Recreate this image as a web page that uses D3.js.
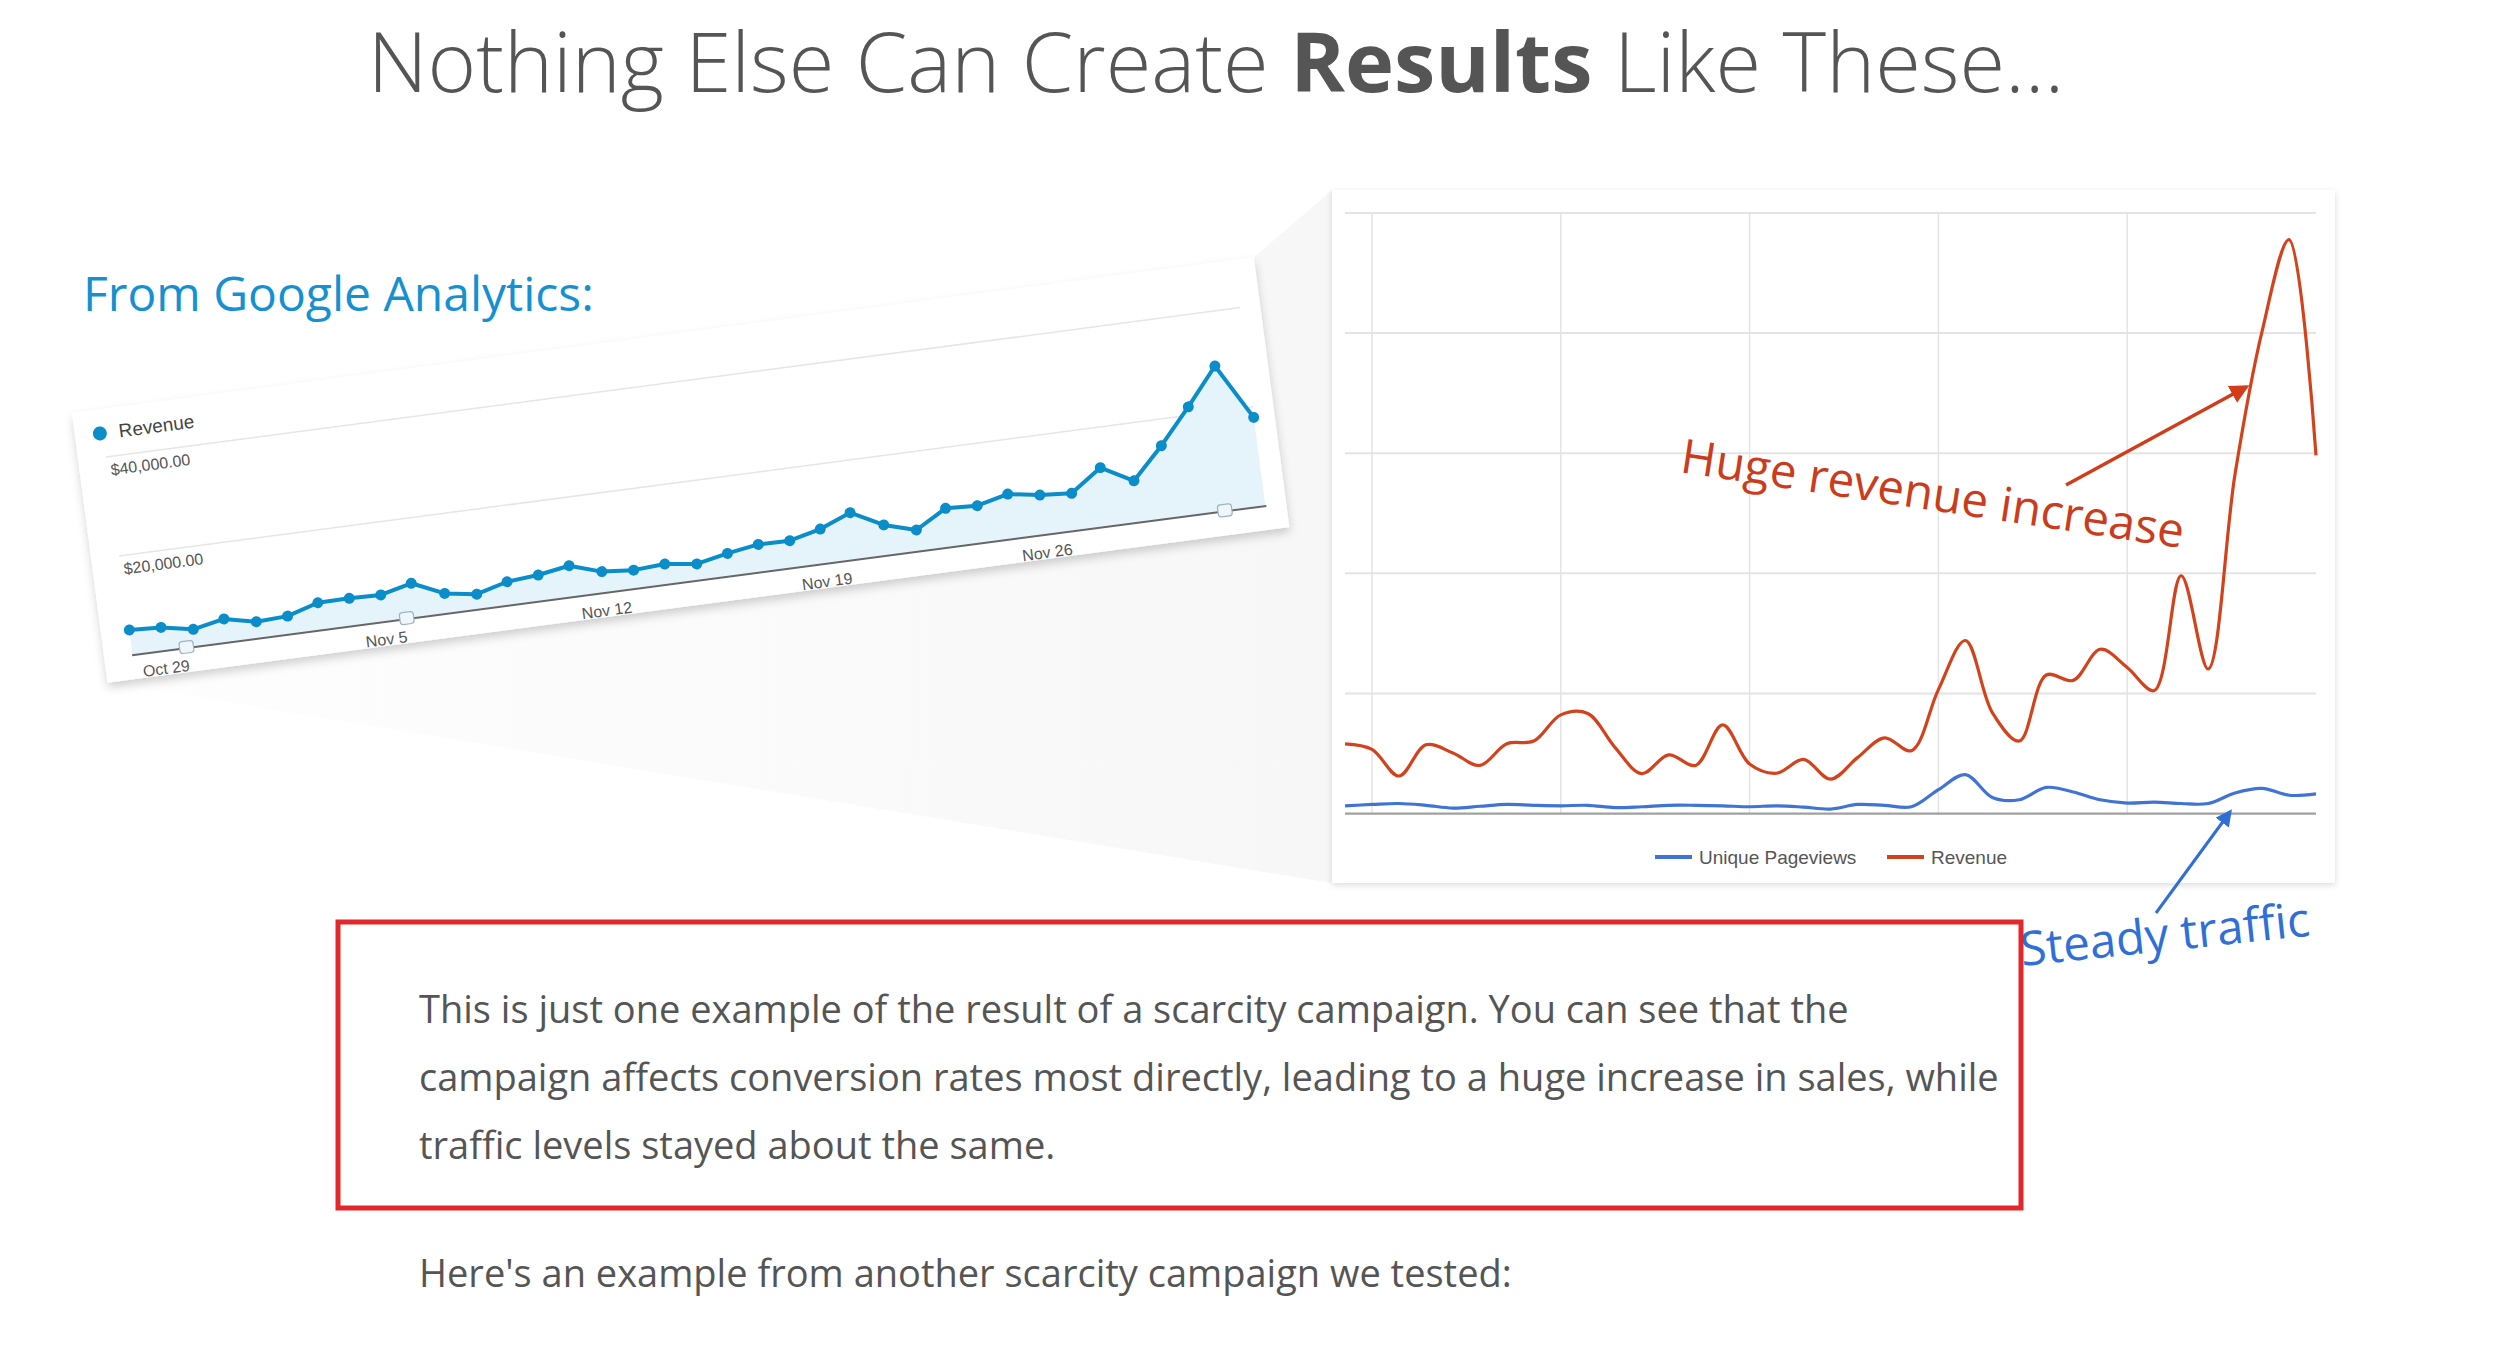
<!DOCTYPE html>
<html><head><meta charset="utf-8">
<script src="https://cdn.jsdelivr.net/npm/d3@7"></script>
<style>
html,body{margin:0;padding:0;background:#fff;overflow:hidden}
svg{display:block}
</style></head><body>
<svg id="c" width="2496" height="1356"></svg>
<script>
// ---------------- DATA ----------------
const dayLabels = ["Oct 28","Oct 29","Oct 30","Oct 31","Nov 1","Nov 2","Nov 3","Nov 4","Nov 5","Nov 6",
  "Nov 7","Nov 8","Nov 9","Nov 10","Nov 11","Nov 12","Nov 13","Nov 14","Nov 15","Nov 16",
  "Nov 17","Nov 18","Nov 19","Nov 20","Nov 21","Nov 22","Nov 23","Nov 24","Nov 25","Nov 26",
  "Nov 27","Nov 28","Nov 29","Nov 30","Dec 1","Dec 2","Dec 3"];
const weekTicks = ["Oct 29","Nov 5","Nov 12","Nov 19","Nov 26"];

// Google Analytics (left, tilted) revenue in $
const gaRevenue = [5080,4760,3540,4800,3400,3700,5560,5620,5460,6980,
  4100,3100,4780,5300,6340,4320,3780,4180,3360,4640,
  5620,5540,7060,9520,6220,4360,7900,7580,9100,8060,
  7580,11920,8440,14680,21680,29080,17880];
const gaYTicks = [20000, 40000];
const gaYTickLabels = ["$20,000.00", "$40,000.00"];
const gaLegend = "Revenue";
const gaAnnotationDays = ["Oct 30","Nov 6","Dec 2"];

// Right chart (Google chart): Revenue and Unique Pageviews
const revenue = [581,535,313,573,505,401,581,604,822,833,
  554,333,489,401,738,413,336,451,287,466,
  631,524,1032,1441,841,604,1154,1109,1368,1216,
  1024,1980,1204,2829,4014,4778,2982];
const pageviews = [65,76,84,69,46,61,76,69,65,69,
  50,57,69,69,65,57,65,54,38,76,
  69,57,199,325,134,115,218,180,115,88,
  96,84,84,172,210,153,164];
const seriesNames = ["Unique Pageviews","Revenue"];
const seriesColors = ["#3f74d4","#d2431d"];

// Texts
const titleParts = ["Nothing Else Can Create ","Results"," Like These..."];
const gaHeading = "From Google Analytics:";
const bodyLines = [
  "This is just one example of the result of a scarcity campaign. You can see that the",
  "campaign affects conversion rates most directly, leading to a huge increase in sales, while",
  "traffic levels stayed about the same."];
const afterLine = "Here's an example from another scarcity campaign we tested:";
const noteRevenue = "Huge revenue increase";
const noteTraffic = "Steady traffic";

// ---------------- DRAW ----------------
const svg = d3.select("#c");
const defs = svg.append("defs");

const sh1 = defs.append("filter").attr("id","cardShadow").attr("x","-5%").attr("y","-10%").attr("width","110%").attr("height","130%");
sh1.append("feDropShadow").attr("dx",0).attr("dy",5).attr("stdDeviation",5).attr("flood-color","#000").attr("flood-opacity",0.18);
const sh2 = defs.append("filter").attr("id","cardShadow2").attr("x","-5%").attr("y","-5%").attr("width","110%").attr("height","115%");
sh2.append("feDropShadow").attr("dx",0).attr("dy",2).attr("stdDeviation",3).attr("flood-color","#000").attr("flood-opacity",0.14);

const gradP = defs.append("linearGradient").attr("id","proj").attr("x1","0").attr("y1","0").attr("x2","1").attr("y2","0");
gradP.append("stop").attr("offset","0").attr("stop-color","#fefefe");
gradP.append("stop").attr("offset","1").attr("stop-color","#f7f7f7");

function arrowMarker(id, color){
  defs.append("marker").attr("id",id).attr("viewBox","0 0 10 10").attr("refX",8).attr("refY",5)
    .attr("markerWidth",5.5).attr("markerHeight",5.5).attr("orient","auto")
    .append("path").attr("d","M0,0 L10,5 L0,10 z").attr("fill",color);
}
arrowMarker("arR","#cf3d1b");
arrowMarker("arB","#2f6fd6");

// Title
const title = svg.append("text").attr("x",1216).attr("y",92).attr("text-anchor","middle")
  .style("font-family","'Open Sans'").style("font-size","83px").style("fill","#555");
title.selectAll("tspan").data(titleParts).join("tspan")
  .style("font-weight",(d,i)=>i===1?700:300).text(d=>d);

// Geometry of tilted GA card
const gaOrigin = [72,413], gaAngle = -7.5, gaW = 1192, gaH = 272;
const rad = gaAngle*Math.PI/180, cs = Math.cos(rad), sn = Math.sin(rad);
const toPage = (u,v)=>[gaOrigin[0]+u*cs - v*sn, gaOrigin[1]+u*sn + v*cs];

// Right card geometry
const card = {x:1332, y:190, w:1003, h:693};

// projection polygon (zoom effect)
svg.append("polygon")
  .attr("points",[toPage(gaW,0),[card.x,card.y],[card.x,card.y+card.h],toPage(0,gaH)].map(p=>p.join(",")).join(" "))
  .attr("fill","url(#proj)");

// Heading
svg.append("text").attr("x",83).attr("y",311).text(gaHeading)
  .style("font-family","'Open Sans'").style("font-size","48px").style("fill","#1590d0");

// ---- GA card ----
const g = svg.append("g").attr("transform",`translate(${gaOrigin}) rotate(${gaAngle})`);
g.append("rect").attr("width",gaW).attr("height",gaH).attr("fill","#fff").attr("filter","url(#cardShadow)");

const xG = d3.scalePoint(dayLabels,[28.5,1171]);
const yG = d3.scaleLinear([0,40000],[248,48]);

g.selectAll(".gg").data(gaYTicks).join("line")
  .attr("x1",28).attr("x2",1172).attr("y1",d=>yG(d)).attr("y2",d=>yG(d))
  .attr("stroke","#e6e6e6").attr("stroke-width",1.5);
g.selectAll(".gl").data(gaYTicks).join("text")
  .attr("x",31).attr("y",d=>yG(d)+19).text((d,i)=>gaYTickLabels[i])
  .style("font-family","'Liberation Sans',Arial").style("font-size","16px").style("fill","#555");

g.append("path").datum(gaRevenue)
  .attr("d",d3.area().x((d,i)=>xG(dayLabels[i])).y0(yG(0)).y1(d=>yG(d)))
  .attr("fill","#e5f3fb");
g.append("line").attr("x1",28).attr("x2",1172).attr("y1",yG(0)).attr("y2",yG(0))
  .attr("stroke","#666").attr("stroke-width",2);
g.append("path").datum(gaRevenue)
  .attr("d",d3.line().x((d,i)=>xG(dayLabels[i])).y(d=>yG(d)))
  .attr("fill","none").attr("stroke","#0a8dc9").attr("stroke-width",4).attr("stroke-linejoin","round");
g.selectAll(".gd").data(gaRevenue).join("circle")
  .attr("cx",(d,i)=>xG(dayLabels[i])).attr("cy",d=>yG(d)).attr("r",5.5).attr("fill","#0a8dc9");

g.selectAll(".gx").data(weekTicks).join("text")
  .attr("x",d=>xG(d)).attr("y",yG(0)+23).attr("text-anchor","middle").text(d=>d)
  .style("font-family","'Liberation Sans',Arial").style("font-size","16px").style("fill","#555");

g.selectAll(".ga").data(gaAnnotationDays).join("rect")
  .attr("x",d=>xG(d)-16).attr("y",yG(0)-7).attr("width",14).attr("height",12).attr("rx",3)
  .attr("fill","#eef6fb").attr("stroke","#9fb3c2").attr("stroke-width",1.2);

g.append("circle").attr("cx",25).attr("cy",24).attr("r",7).attr("fill","#0a8dc9");
g.append("text").attr("x",44).attr("y",30.5).text(gaLegend)
  .style("font-family","'Liberation Sans',Arial").style("font-size","19px").style("fill","#444");

// ---- Right card ----
svg.append("rect").attr("x",card.x).attr("y",card.y).attr("width",card.w).attr("height",card.h)
  .attr("fill","#fff").attr("filter","url(#cardShadow2)");

const xR = d3.scalePoint(dayLabels,[1345,2316]);
const yR = d3.scaleLinear([0,5000],[813.6,213]);

svg.selectAll(".rh").data(yR.ticks(5).filter(d=>d>0)).join("line")
  .attr("x1",1345).attr("x2",2316).attr("y1",d=>yR(d)).attr("y2",d=>yR(d))
  .attr("stroke","#e4e4e4").attr("stroke-width",2);
svg.selectAll(".rv").data(weekTicks).join("line")
  .attr("x1",d=>xR(d)).attr("x2",d=>xR(d)).attr("y1",yR(5000)).attr("y2",yR(0))
  .attr("stroke","#e4e4e4").attr("stroke-width",1.5);
svg.append("line").attr("x1",1345).attr("x2",2316).attr("y1",yR(0)).attr("y2",yR(0))
  .attr("stroke","#a0a0a0").attr("stroke-width",2.2);

const lineR = d3.line().x((d,i)=>xR(dayLabels[i])).y(d=>yR(d)).curve(d3.curveCatmullRom.alpha(0.5));
[pageviews, revenue].forEach((s,k)=>{
  svg.append("path").datum(s).attr("d",lineR).attr("fill","none")
    .attr("stroke",seriesColors[k]).attr("stroke-width",3.2).attr("stroke-linejoin","round");
});

// legend
const legX = [1655,1887];
seriesNames.forEach((n,k)=>{
  svg.append("line").attr("x1",legX[k]).attr("x2",legX[k]+37).attr("y1",857).attr("y2",857)
    .attr("stroke",seriesColors[k]).attr("stroke-width",4);
  svg.append("text").attr("x",legX[k]+44).attr("y",864).text(n)
    .style("font-family","'Liberation Sans',Arial").style("font-size","19px").style("fill","#555");
});

// annotations
svg.append("line").attr("x1",2066).attr("y1",485).attr("x2",2246).attr("y2",387)
  .attr("stroke","#cf3d1b").attr("stroke-width",3.5).attr("marker-end","url(#arR)");
svg.append("text").attr("transform","translate(1679,472) rotate(8.6)").text(noteRevenue)
  .style("font-family","'Open Sans'").style("font-size","47.5px").style("fill","#cb3c1c");

svg.append("line").attr("x1",2156).attr("y1",913).attr("x2",2230).attr("y2",812)
  .attr("stroke","#2f6fd6").attr("stroke-width",3).attr("marker-end","url(#arB)");
svg.append("text").attr("transform","translate(2022,966) rotate(-6)").text(noteTraffic)
  .style("font-family","'Open Sans'").style("font-size","47.5px").style("fill","#2f6fd6");

// red box and body text
svg.append("rect").attr("x",338).attr("y",922).attr("width",1683).attr("height",286)
  .attr("fill","none").attr("stroke","#e2282b").attr("stroke-width",5);
const baseY = [1023,1091,1159];
svg.selectAll(".bl").data(bodyLines).join("text")
  .attr("x",419).attr("y",(d,i)=>baseY[i]).text(d=>d)
  .style("font-family","'Open Sans'").style("font-size","38px").style("fill","#555");
svg.append("text").attr("x",419).attr("y",1287).text(afterLine)
  .style("font-family","'Open Sans'").style("font-size","38px").style("fill","#555");
</script>
</body></html>
